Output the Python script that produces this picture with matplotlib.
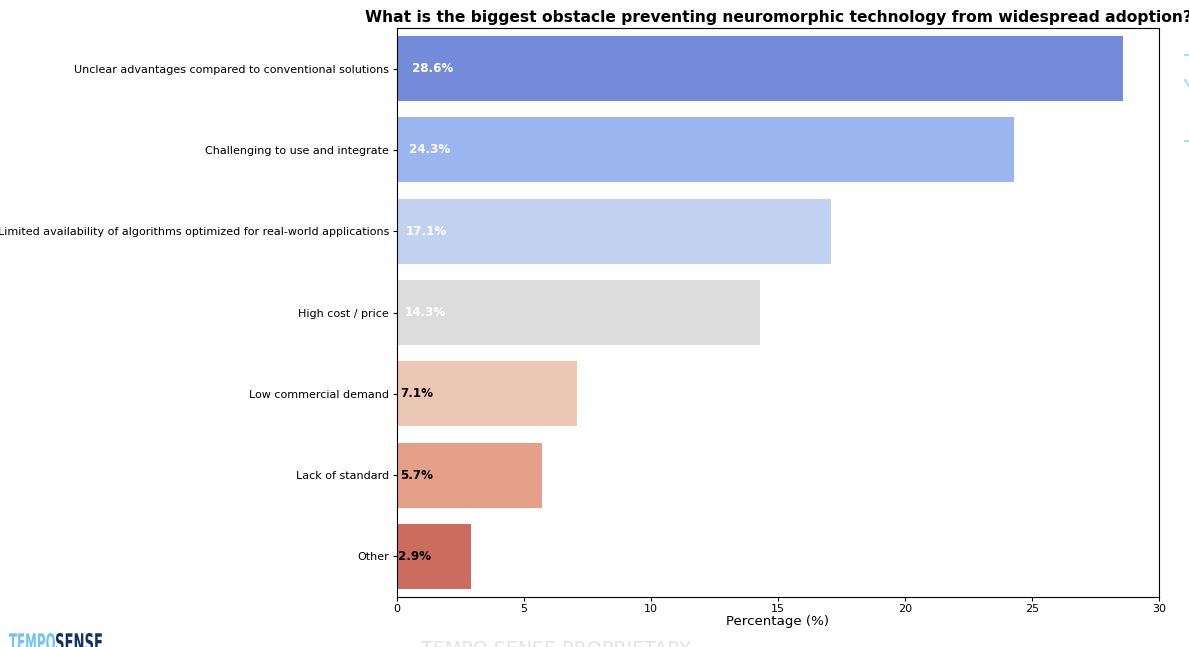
import matplotlib
matplotlib.use("Agg")
import matplotlib.pyplot as plt
import seaborn as sns
from matplotlib.textpath import TextPath
from matplotlib.patches import PathPatch
from matplotlib.font_manager import FontProperties
from matplotlib.transforms import Affine2D, IdentityTransform
from matplotlib.lines import Line2D

categories = [
    "Unclear advantages compared to conventional solutions",
    "Challenging to use and integrate",
    "Limited availability of algorithms optimized for real-world applications",
    "High cost / price",
    "Low commercial demand",
    "Lack of standard",
    "Other",
]
values = [28.6, 24.3, 17.1, 14.3, 7.1, 5.7, 2.9]
label_colors = ["white", "white", "white", "white", "black", "black", "black"]
title = "What is the biggest obstacle preventing neuromorphic technology from widespread adoption?"

W, H = 1189, 647
fig = plt.figure(figsize=(W / 100, H / 100), dpi=100)
ax = fig.add_axes([397 / W, 1 - 597 / H, (1159 - 397) / W, (597 - 28) / H])

palette = sns.color_palette("coolwarm", len(values))
sns.barplot(x=values, y=categories, hue=categories, palette=palette, legend=False, ax=ax, orient="h")

for i, (v, c) in enumerate(zip(values, label_colors)):
    ax.text(v * 0.02, i, f"{v}%", ha="left", va="center", color=c,
            fontsize=8.6, fontweight="bold")

ax.set_xlim(0, 30)
ax.set_xlabel("Percentage (%)", fontsize=9.6, labelpad=1)
ax.set_ylabel("")
ax.tick_params(axis="both", labelsize=8, length=2.8, width=0.8)
ax.tick_params(axis="x", pad=2)
ax.tick_params(axis="y", pad=2.8)
for s in ax.spines.values():
    s.set_linewidth(0.8)
ax.set_title(title, fontsize=11.2, fontweight="bold", pad=4)

# branding: condensed logo text drawn as scaled text paths (display coords)
fp = FontProperties(family="DejaVu Sans", weight="bold")


def logo_word(word, x0, x1, ytop, height, color):
    tp = TextPath((0, 0), word, size=100, prop=fp)
    ext = tp.get_extents()
    sx = (x1 - x0) / ext.width
    sy = height / ext.height
    tr = (Affine2D().translate(-ext.x0, -ext.y1).scale(sx, sy)
          .translate(x0, H - ytop))
    fig.patches.append(PathPatch(tr.transform_path(tp), transform=IdentityTransform(),
                                 facecolor=color, edgecolor="none"))


logo_word("TEMPO", 9, 55, 633, 18, "#72c4f1")
logo_word("SENSE", 56, 102, 633, 18, "#14305c")

fig.text(421 / W, 7 / H, "TEMPO SENSE PROPRIETARY", color="#e3e3e3", fontsize=13.7,
         va="top", ha="left")

for xs, ys in [((1185, 1189), (55, 55)), ((1185, 1189), (80, 86)), ((1185, 1189), (141, 141))]:
    fig.lines.append(Line2D(xs, [H - y for y in ys], transform=IdentityTransform(),
                            color="#a9dcf5", lw=1.5))

fig.savefig("out.png", dpi=100)
